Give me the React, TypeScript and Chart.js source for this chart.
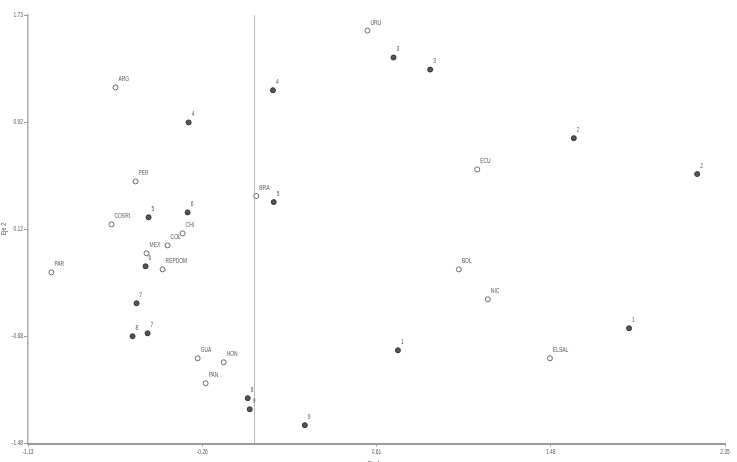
import React, { useEffect, useRef } from "react";
import { Chart, registerables } from "chart.js";

Chart.register(...registerables);

const countryNames = ["URU", "ARG", "PER", "ECU", "BRA", "COSRI", "COL", "CHI", "MEX", "REPDOM", "PAR", "BOL", "NIC", "GUA", "HON", "PAN", "ELSAL"];
const countryX = [0.565, -0.693, -0.593, 1.113, 0.01, -0.713, -0.433, -0.358, -0.538, -0.458, -1.013, 1.021, 1.166, -0.283, -0.153, -0.243, 1.476];
const countryY = [1.61, 1.184, 0.48, 0.57, 0.37, 0.158, 0.001, 0.091, -0.059, -0.179, -0.201, -0.179, -0.403, -0.845, -0.875, -1.032, -0.845];

const groupNames = ["3", "3", "4", "4", "2", "2", "5", "6", "5", "6", "7", "8", "7", "1", "1", "8", "9", "9"];
const groupX = [0.695, 0.878, 0.093, -0.328, 1.595, 2.211, -0.528, -0.333, 0.097, -0.543, -0.588, -0.608, -0.533, 0.717, 1.871, -0.033, -0.023, 0.252];
const groupY = [1.408, 1.318, 1.163, 0.922, 0.804, 0.535, 0.211, 0.248, 0.325, -0.156, -0.433, -0.68, -0.658, -0.785, -0.62, -1.144, -1.227, -1.346];

const xTicks = [-1.13, -0.26, 0.61, 1.48, 2.35];
const yTicks = [-1.4834, -0.6809, 0.1216, 0.9241, 1.7266];
const xTitle = "Eje 1";
const yTitle = "Eje 2";

const FONT = "'Liberation Sans', Arial, sans-serif";
const CONDENSE = 0.7;

function drawText(ctx: any, text: string, x: number, y: number, align: string, color: string) {
  ctx.save();
  ctx.font = `7px ${FONT}`;
  ctx.fillStyle = color;
  ctx.textAlign = align;
  ctx.textBaseline = "middle";
  ctx.translate(x, y);
  ctx.scale(CONDENSE, 1);
  ctx.fillText(text, 0, 0);
  ctx.restore();
}

const labelPlugin = {
  id: "pointLabels",
  afterDatasetsDraw(chart: any) {
    const ctx = chart.ctx;
    chart.data.datasets.forEach((ds: any, di: number) => {
      const meta = chart.getDatasetMeta(di);
      meta.data.forEach((pt: any, i: number) => {
        drawText(ctx, ds.names[i], pt.x + 3, pt.y - 8, "left", "#555");
      });
    });
  },
};

const zeroLinePlugin = {
  id: "zeroLine",
  beforeDatasetsDraw(chart: any) {
    const { ctx, chartArea, scales } = chart;
    const x = Math.round(scales.x.getPixelForValue(0)) + 0.5;
    ctx.save();
    ctx.strokeStyle = "#bbb";
    ctx.lineWidth = 1;
    ctx.beginPath();
    ctx.moveTo(x, chartArea.top);
    ctx.lineTo(x, chartArea.bottom);
    ctx.stroke();
    ctx.restore();
  },
};

const axisTextPlugin = {
  id: "axisText",
  afterDraw(chart: any) {
    const { ctx, chartArea, scales } = chart;
    xTicks.forEach((v) => {
      drawText(ctx, v.toFixed(2), scales.x.getPixelForValue(v), chartArea.bottom + 9, "center", "#555");
    });
    yTicks.forEach((v) => {
      drawText(ctx, v.toFixed(2), chartArea.left - 5, scales.y.getPixelForValue(v), "right", "#555");
    });
    ctx.save();
    ctx.font = `8px ${FONT}`;
    ctx.fillStyle = "#555";
    ctx.textAlign = "center";
    ctx.textBaseline = "middle";
    ctx.translate(4, 229);
    ctx.rotate(-Math.PI / 2);
    ctx.scale(CONDENSE, 1);
    ctx.fillText(yTitle, 0, 0);
    ctx.restore();
    ctx.save();
    ctx.font = `8px ${FONT}`;
    ctx.fillStyle = "#555";
    ctx.textAlign = "center";
    ctx.textBaseline = "top";
    ctx.translate(374, 460);
    ctx.scale(CONDENSE, 1);
    ctx.fillText(xTitle, 0, 0);
    ctx.restore();
  },
};

export default function App() {
  const ref = useRef<HTMLCanvasElement>(null);
  useEffect(() => {
    if (!ref.current) return;
    const chart = new Chart(ref.current, {
      type: "scatter",
      data: {
        datasets: [
          {
            label: "Países",
            names: countryNames,
            data: countryX.map((x, i) => ({ x, y: countryY[i] })),
            pointRadius: 2.5,
            pointBorderWidth: 1,
            borderColor: "#666",
            backgroundColor: "#fff",
          } as any,
          {
            label: "Grupos",
            names: groupNames,
            data: groupX.map((x, i) => ({ x, y: groupY[i] })),
            pointRadius: 2.5,
            pointBorderWidth: 1,
            borderColor: "#333",
            backgroundColor: "#555",
          } as any,
        ],
      },
      options: {
        animation: false,
        responsive: false,
        layout: { padding: { top: 15, right: 12, left: 0, bottom: 0 } },
        plugins: { legend: { display: false }, tooltip: { enabled: false } },
        scales: {
          x: {
            type: "linear",
            min: xTicks[0],
            max: xTicks[xTicks.length - 1],
            afterBuildTicks: (s: any) => {
              s.ticks = xTicks.map((v) => ({ value: v }));
            },
            afterFit: (s: any) => {
              s.height = 18.5;
            },
            ticks: { display: false },
            grid: { display: true, drawOnChartArea: false, drawTicks: true, tickLength: 3, color: "#999" },
            border: { display: true, color: "#999", width: 2 },
          },
          y: {
            type: "linear",
            min: yTicks[0],
            max: yTicks[yTicks.length - 1],
            afterBuildTicks: (s: any) => {
              s.ticks = yTicks.map((v) => ({ value: v }));
            },
            afterFit: (s: any) => {
              s.width = 28;
            },
            ticks: { display: false },
            grid: { display: true, drawOnChartArea: false, drawTicks: true, tickLength: 4, color: "#999" },
            border: { display: true, color: "#aaa", width: 1.5 },
          },
        },
      } as any,
      plugins: [zeroLinePlugin, labelPlugin, axisTextPlugin],
    });
    return () => chart.destroy();
  }, []);
  return (
    <div style={{ position: "absolute", left: 0, top: 0, width: 737, height: 462, background: "#fff" }}>
      <canvas ref={ref} width={737} height={462} style={{ display: "block" }} />
    </div>
  );
}
